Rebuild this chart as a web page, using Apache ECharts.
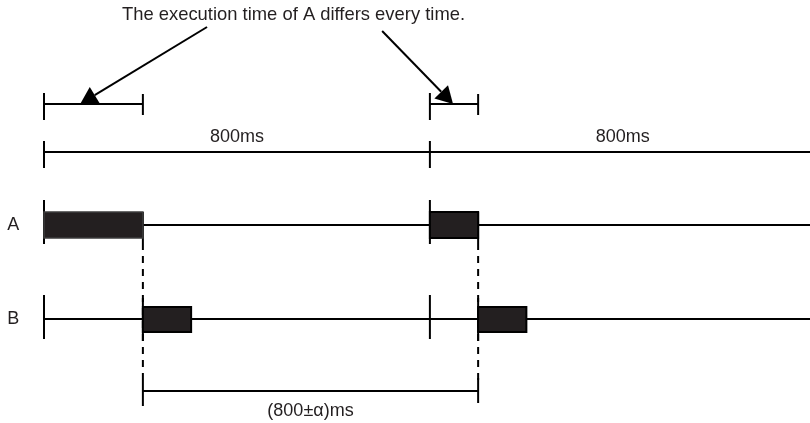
<!DOCTYPE html>
<html><head><meta charset="utf-8">
<script src="https://cdn.jsdelivr.net/npm/echarts@6/dist/echarts.min.js"></script>
<style>html,body{margin:0;padding:0;background:#fff}#c{width:810px;height:423px}</style>
</head><body><div id="c"></div>
<script>
// ---- Data (times in ms) ----
const titleText = 'The execution time of A differs every time.';
const laneNames = ['A', 'B'];
const periodStarts = [0, 800];
const periodLength = 800;
const periodLabels = ['800ms', '800ms'];
const aStarts = [0, 800];
const aDurations = [205, 100];
const bStarts = [205, 900];
const bDurations = [100, 100];
const jitterSpan = [205, 900];
const jitterLabel = '(800±α)ms';
const arrowFromMs = [338, 701];
const arrowToMs = [75, 848];
const timeEnd = 1588;

// ---- Layout (vertical levels, px) ----
const Y = { title: 15, exec: 104, periodLabel: 137, period: 152, A: 225, B: 319, jitter: 391, jitterLabel: 411 };
const arrowStartY = [27, 31];
const laneLabelMs = -64;
const FONT = '18px "Liberation Sans", Arial, sans-serif';
const TITLE_FONT = '18.4px "Liberation Sans", Arial, sans-serif';
const INK = '#000';
const TEXT = '#231f20';

// horizontal segments [t0, t1, y]
const hSegs = [
  [0, timeEnd, Y.A], [0, timeEnd, Y.B], [0, timeEnd, Y.period],
  [jitterSpan[0], jitterSpan[1], Y.jitter]
];
aStarts.forEach((s, i) => hSegs.push([s, s + aDurations[i], Y.exec]));

// vertical ticks [t, y0, y1]
const vTicks = [];
aStarts.forEach((s, i) => { vTicks.push([s, 93, 120]); vTicks.push([s + aDurations[i], 94, 115]); });
periodStarts.forEach(s => { vTicks.push([s, 141, 168]); vTicks.push([s, 200, 244]); vTicks.push([s, 295, 339]); });
aStarts.forEach((s, i) => vTicks.push([s + aDurations[i], 212, 243]));
bStarts.forEach(s => vTicks.push([s, 298, 341]));
vTicks.push([jitterSpan[0], 380, 406]);
vTicks.push([jitterSpan[1], 378, 403]);

// dashed guides [t, y0, y1]
const dashes = aStarts.map((s, i) => [s + aDurations[i], 243, 380]);

// blocks [t0, t1, yc, half, variant]
const blocks = [];
aStarts.forEach((s, i) => blocks.push([s, s + aDurations[i], Y.A, 13, i]));
bStarts.forEach((s, i) => blocks.push([s, s + bDurations[i], Y.B + 0.5, 12.5, 1]));

// texts [t, y, label]
const texts = periodStarts.map((s, i) => [s + periodLength / 2, Y.periodLabel, periodLabels[i]]);
texts.push([(jitterSpan[0] + jitterSpan[1]) / 2, Y.jitterLabel, jitterLabel]);
texts.push([laneLabelMs, Y.A, laneNames[0]]);
texts.push([laneLabelMs, Y.B + 0.5, laneNames[1]]);

// arrows [t0, y0, t1, y1]
const arrows = arrowFromMs.map((t, i) => [t, arrowStartY[i], arrowToMs[i], Y.exec]);

const chart = echarts.init(document.getElementById('c'), null, { renderer: 'canvas' });
chart.setOption({
  animation: false,
  backgroundColor: '#fff',
  grid: { left: 44, right: 0, top: 0, bottom: 0 },
  xAxis: { type: 'value', min: 0, max: timeEnd, show: false },
  yAxis: { type: 'value', min: 0, max: 423, inverse: true, show: false },
  graphic: [{
    type: 'text', x: 293.5, y: Y.title,
    style: { text: titleText, font: TITLE_FONT, fill: TEXT, textAlign: 'center', textVerticalAlign: 'middle' }
  }],
  series: [
    {
      type: 'custom', clip: false, data: hSegs,
      renderItem: (p, api) => {
        const a = api.coord([api.value(0), api.value(2)]), b = api.coord([api.value(1), api.value(2)]);
        return { type: 'line', shape: { x1: a[0], y1: a[1], x2: b[0], y2: b[1] }, style: { stroke: INK, lineWidth: 2 } };
      }
    },
    {
      type: 'custom', clip: false, data: dashes,
      renderItem: (p, api) => {
        const a = api.coord([api.value(0), api.value(1)]), b = api.coord([api.value(0), api.value(2)]);
        return { type: 'line', shape: { x1: a[0], y1: a[1], x2: b[0], y2: b[1] }, style: { stroke: INK, lineWidth: 2, lineDash: [7, 6] } };
      }
    },
    {
      type: 'custom', clip: false, data: vTicks,
      renderItem: (p, api) => {
        const a = api.coord([api.value(0), api.value(1)]), b = api.coord([api.value(0), api.value(2)]);
        return { type: 'line', shape: { x1: a[0], y1: a[1], x2: b[0], y2: b[1] }, style: { stroke: INK, lineWidth: 2 } };
      }
    },
    {
      type: 'custom', clip: false, data: blocks,
      renderItem: (p, api) => {
        const yc = api.value(2), h = api.value(3);
        const a = api.coord([api.value(0), yc - h]), b = api.coord([api.value(1), yc + h]);
        const first = api.value(4) === 0;
        return { type: 'rect', shape: { x: a[0], y: a[1], width: b[0] - a[0], height: b[1] - a[1] },
          style: { fill: '#231f20', stroke: first ? '#3c3c3c' : '#000', lineWidth: first ? 1.5 : 2 } };
      }
    },
    {
      type: 'custom', clip: false, data: arrows,
      renderItem: (p, api) => {
        const s = api.coord([api.value(0), api.value(1)]), e = api.coord([api.value(2), api.value(3)]);
        const dx = e[0] - s[0], dy = e[1] - s[1], L = Math.hypot(dx, dy);
        const ux = dx / L, uy = dy / L, hl = 17, hw = 9.5;
        const bx = e[0] - ux * hl, by = e[1] - uy * hl;
        return { type: 'group', children: [
          { type: 'line', shape: { x1: s[0], y1: s[1], x2: bx, y2: by }, style: { stroke: INK, lineWidth: 2 } },
          { type: 'polygon', shape: { points: [[e[0], e[1]], [bx - uy * hw, by + ux * hw], [bx + uy * hw, by - ux * hw]] }, style: { fill: INK } }
        ] };
      }
    },
    {
      type: 'custom', clip: false, data: texts,
      renderItem: (p, api) => {
        const c = api.coord([api.value(0), api.value(1)]);
        return { type: 'text', x: c[0], y: c[1], style: { text: texts[p.dataIndex][2], font: FONT, fill: TEXT, textAlign: 'center', textVerticalAlign: 'middle' } };
      }
    }
  ]
});
</script></body></html>
